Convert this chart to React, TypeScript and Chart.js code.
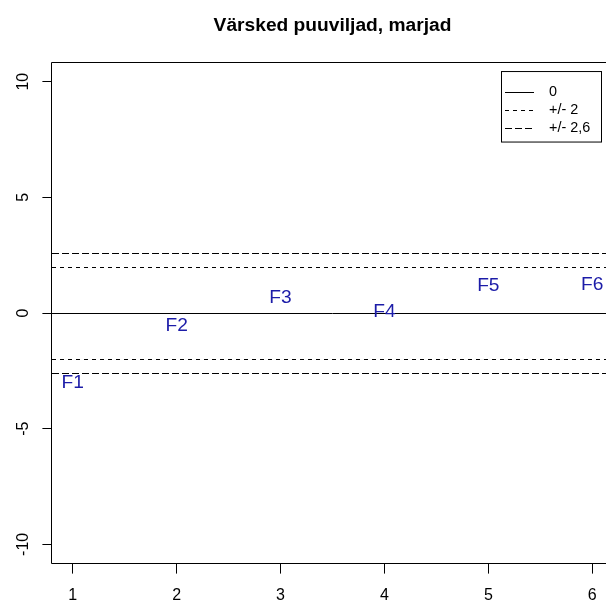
import { useEffect, useRef } from 'react';
import { Chart, registerables } from 'chart.js';

Chart.register(...registerables);

const categories = ['F1', 'F2', 'F3', 'F4', 'F5', 'F6'];
const xValues = [1, 2, 3, 4, 5, 6];
const yValues = [-2.94, -0.46, 0.73, 0.13, 1.27, 1.28];
const refLines = [0, 2, -2, 2.6, -2.6];
const refDash = [[], [4, 4], [4, 4], [7, 3], [7, 3]];
const legendLabels = ['0', '+/- 2', '+/- 2,6'];
const legendDash = [[], [4, 4], [7, 3]];
const titleText = 'Värsked puuviljad, marjad';

const FONT = '"Liberation Sans", Arial, Helvetica, sans-serif';
const LABEL_COLOR = '#1c1ca8';
const CANVAS_W = 640;

export default function App() {
  const ref = useRef<HTMLCanvasElement>(null);

  useEffect(() => {
    const canvas = ref.current;
    if (!canvas) return;

    const rPlugin = {
      id: 'rstyle',
      beforeDatasetsDraw(chart: any) {
        const { ctx, chartArea: a, scales } = chart;
        const y = scales.y;
        ctx.save();
        ctx.beginPath();
        ctx.rect(a.left, a.top, a.right - a.left, a.bottom - a.top);
        ctx.clip();
        ctx.strokeStyle = '#000';
        ctx.lineWidth = 1;
        refLines.forEach((v, i) => {
          const py = Math.round(y.getPixelForValue(v)) + 0.5;
          ctx.setLineDash(refDash[i]);
          ctx.beginPath();
          ctx.moveTo(a.left, py);
          ctx.lineTo(a.right, py);
          ctx.stroke();
        });
        ctx.restore();
      },
      afterDatasetsDraw(chart: any) {
        const { ctx } = chart;
        const meta = chart.getDatasetMeta(0);
        const size = 19.2;
        ctx.save();
        ctx.font = `${size}px ${FONT}`;
        ctx.fillStyle = LABEL_COLOR;
        ctx.textAlign = 'center';
        ctx.textBaseline = 'alphabetic';
        meta.data.forEach((pt: any, i: number) => {
          ctx.fillText(categories[i], pt.x, pt.y + size * 0.358);
        });
        ctx.restore();
      },
      afterDraw(chart: any) {
        const { ctx, chartArea: a, scales } = chart;
        const y = scales.y;
        ctx.save();
        ctx.strokeStyle = '#000';
        ctx.lineWidth = 1;
        ctx.setLineDash([]);
        const l = Math.round(a.left) - 0.5;
        const t = Math.round(a.top) + 0.5;
        const b = Math.round(a.bottom) - 0.5;
        const r = Math.round(a.right) - 0.5;
        ctx.beginPath();
        ctx.moveTo(r, t);
        ctx.lineTo(l, t);
        ctx.lineTo(l, b);
        ctx.lineTo(r, b);
        ctx.stroke();

        ctx.fillStyle = '#000';
        ctx.font = `16px ${FONT}`;
        ctx.textAlign = 'center';
        ctx.textBaseline = 'middle';
        y.ticks.forEach((tk: any) => {
          const py = y.getPixelForValue(tk.value);
          ctx.save();
          ctx.translate(a.left - 28.5, py);
          ctx.rotate(-Math.PI / 2);
          ctx.fillText(String(tk.value), 0, 0);
          ctx.restore();
        });

        const lx = 501;
        const ly = a.top + 9.5;
        const lw = 100;
        const lh = 70.5;
        ctx.fillStyle = '#fff';
        ctx.fillRect(lx + 0.5, ly, lw, lh);
        ctx.strokeStyle = '#000';
        ctx.strokeRect(lx + 0.5, ly, lw, lh);
        ctx.font = `14.4px ${FONT}`;
        ctx.textAlign = 'left';
        ctx.textBaseline = 'middle';
        legendLabels.forEach((lab, i) => {
          const rowY = Math.round(ly + 20 + i * 18) + 0.5;
          ctx.setLineDash(legendDash[i]);
          ctx.beginPath();
          ctx.moveTo(lx + 4, rowY);
          ctx.lineTo(lx + 33, rowY);
          ctx.stroke();
          ctx.setLineDash([]);
          ctx.fillStyle = '#000';
          ctx.fillText(lab, lx + 48, rowY);
        });
        ctx.restore();
      },
    };

    const chart = new Chart(canvas, {
      type: 'scatter',
      data: {
        datasets: [
          {
            label: 'F',
            data: xValues.map((x, i) => ({ x, y: yValues[i] })),
            pointRadius: 0,
            pointHoverRadius: 0,
          },
        ],
      },
      options: {
        responsive: false,
        animation: false,
        devicePixelRatio: 1,
        layout: { padding: { left: 0, right: CANVAS_W - 613, top: 0, bottom: 0 } },
        plugins: {
          legend: { display: false },
          tooltip: { enabled: false },
          title: {
            display: true,
            text: titleText,
            fullSize: false,
            color: '#000',
            font: { family: FONT, size: 19.2, weight: 'bold', lineHeight: 1.2 },
            padding: { top: 14.3, bottom: 24.7 },
          },
        },
        scales: {
          x: {
            type: 'linear',
            min: 0.8,
            max: 6.2,
            afterFit: (s: any) => {
              s.height = 36;
            },
            ticks: {
              stepSize: 1,
              includeBounds: false,
              autoSkip: false,
              maxRotation: 0,
              color: '#000',
              padding: 12,
              font: { family: FONT, size: 16 },
            },
            grid: {
              drawOnChartArea: false,
              drawTicks: true,
              tickLength: 9.6,
              color: '#000',
              lineWidth: 1,
            },
            border: { display: false },
          },
          y: {
            type: 'linear',
            min: -10.85,
            max: 10.85,
            afterFit: (s: any) => {
              s.width = 52;
            },
            ticks: {
              stepSize: 5,
              includeBounds: false,
              display: false,
            },
            grid: {
              drawOnChartArea: false,
              drawTicks: true,
              tickLength: 9.6,
              color: '#000',
              lineWidth: 1,
            },
            border: { display: false },
          },
        },
      },
      plugins: [rPlugin],
    });

    return () => chart.destroy();
  }, []);

  return (
    <div
      style={{
        position: 'absolute',
        left: 0,
        top: 0,
        width: 606,
        height: 600,
        overflow: 'hidden',
        background: '#fff',
      }}
    >
      <canvas
        ref={ref}
        width={CANVAS_W}
        height={600}
        style={{ width: CANVAS_W, height: 600, display: 'block' }}
      />
    </div>
  );
}
